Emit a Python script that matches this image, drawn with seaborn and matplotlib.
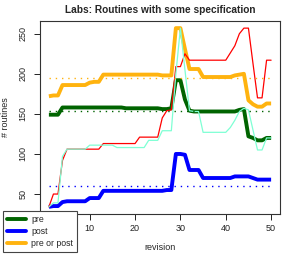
import matplotlib
matplotlib.use("Agg")
import matplotlib.pyplot as plt
from matplotlib.lines import Line2D
import seaborn as sns
import numpy as np
import pandas as pd

revision = list(range(1, 51))

pre = [149, 149, 149, 158, 158, 158, 158, 158, 158, 158,
       158, 158, 158, 158, 158, 158, 158, 157, 157, 157,
       157, 157, 157, 157, 157, 156, 156, 157, 192, 192,
       168, 154, 153, 153, 153, 153, 153, 153, 153, 153,
       153, 153, 155, 156, 122, 120, 117, 117, 120, 120]

post = [34, 35, 35, 40, 41, 41, 41, 41, 41, 45,
        45, 45, 54, 54, 54, 54, 54, 54, 54, 54,
        54, 54, 54, 54, 54, 54, 55, 55, 100, 100,
        99, 80, 80, 80, 70, 70, 70, 70, 70, 70,
        70, 72, 72, 72, 72, 70, 68, 68, 68, 68]

pre_or_post = [172, 173, 173, 186, 186, 186, 186, 186, 186, 189,
               190, 190, 199, 199, 199, 199, 199, 199, 199, 199,
               199, 199, 199, 199, 199, 198, 198, 198, 257, 257,
               231, 206, 206, 206, 196, 196, 196, 196, 196, 196,
               196, 198, 199, 200, 167, 162, 159, 159, 163, 163]

red_series = [34, 50, 50, 92, 106, 106, 106, 106, 106, 106,
              106, 106, 113, 113, 113, 113, 113, 113, 113, 113,
              121, 121, 121, 121, 121, 145, 154, 155, 209, 209,
              225, 217, 217, 217, 217, 217, 217, 217, 217, 217,
              226, 235, 250, 257, 257, 213, 170, 170, 217, 217]

aqua_series = [34, 39, 39, 97, 106, 106, 106, 106, 106, 111,
               111, 111, 111, 111, 111, 108, 108, 108, 108, 108,
               108, 108, 117, 117, 117, 129, 129, 129, 200, 257,
               205, 154, 153, 153, 127, 127, 127, 127, 127, 127,
               133, 142, 153, 157, 155, 130, 105, 105, 120, 120]

ref_pre = 154
ref_post = 60
ref_pre_or_post = 194.6

legend_labels = ["pre", "post", "pre or post"]
x_ticks = [10, 20, 30, 40, 50]
y_ticks = [50, 100, 150, 200, 250]

C_PRE = "#006400"
C_POST = "#0000FF"
C_PP = "#FFB30F"

sns.set_style("white")
plt.rcParams['font.family'] = ['Liberation Sans', 'DejaVu Sans']

fig = plt.figure(figsize=(2.94, 2.54), dpi=100)
ax = fig.add_axes([40/294, 1-214/254, 240/294, 193/254])

df = pd.DataFrame({"revision": revision, "pre": pre, "post": post,
                   "pp": pre_or_post, "red": red_series, "aqua": aqua_series})

for col, c in [("pre", C_PRE), ("post", C_POST), ("pp", C_PP)]:
    sns.lineplot(data=df, x="revision", y=col, color=c, linewidth=2.8, ax=ax,
                 solid_joinstyle="round", solid_capstyle="butt")
for col, c in [("red", "#FF0000"), ("aqua", "#7FFFD4")]:
    sns.lineplot(data=df, x="revision", y=col, color=c, linewidth=0.9, ax=ax)

for lvl, c in [(ref_pre, C_PRE), (ref_post, C_POST), (ref_pre_or_post, C_PP)]:
    ax.hlines(lvl, revision[0], revision[-1], colors=c, linestyles=(0, (1, 3.5)), linewidth=1.0)

ax.set_xlim(-0.96, 51.96)
ax.set_ylim(25.1, 265.9)
ax.set_xticks(x_ticks)
ax.set_yticks(y_ticks)
ax.tick_params(axis="both", which="both", direction="out", length=4, width=0.7,
               labelsize=6.5, colors="#222222", bottom=True, left=True)
ax.tick_params(axis="y", pad=5)
for lab in ax.get_yticklabels():
    lab.set_rotation(90)
    lab.set_va("center")
for s in ax.spines.values():
    s.set_color("#333333")
    s.set_linewidth(0.8)

ax.set_xlabel("revision", fontsize=6.5, labelpad=7)
ax.set_ylabel("# routines", fontsize=6.5, labelpad=6)
ax.set_title("Labs: Routines with some specification", fontsize=7.3,
             fontweight="bold", pad=6)

handles = [Line2D([0], [0], color=c, linewidth=2.8) for c in (C_PRE, C_POST, C_PP)]
leg = fig.legend(handles, legend_labels, loc="lower left",
                 bbox_to_anchor=(3/294, 2/254), fontsize=6.3, frameon=True,
                 fancybox=False, edgecolor="#444444", framealpha=1,
                 handlelength=2.1, handletextpad=0.6, labelspacing=0.3,
                 borderpad=0.5, borderaxespad=0)
leg.get_frame().set_linewidth(0.8)

fig.savefig("out.png", dpi=100)
